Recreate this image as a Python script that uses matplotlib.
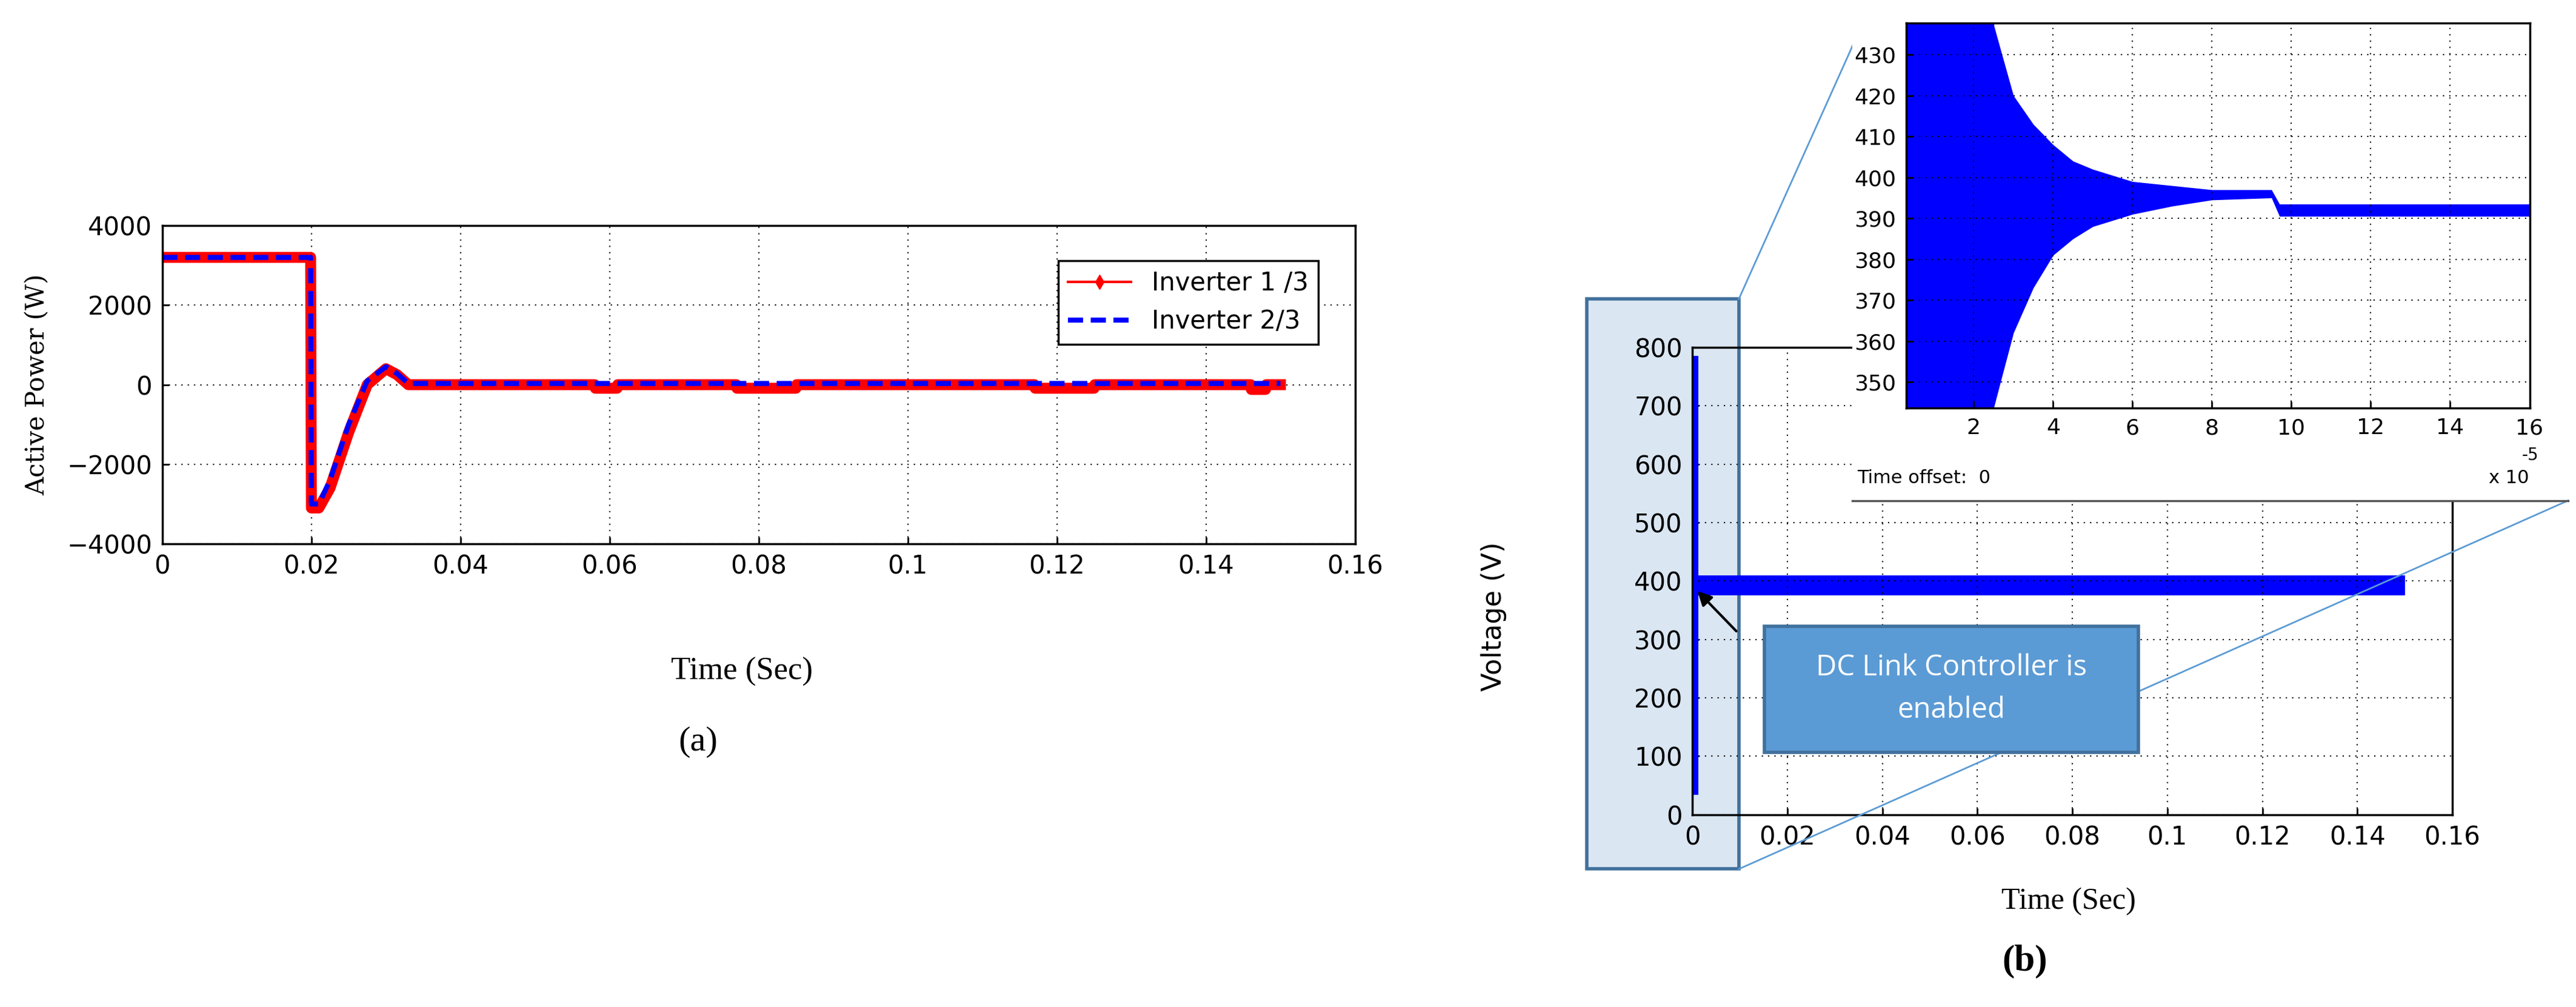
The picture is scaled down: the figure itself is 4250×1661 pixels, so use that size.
import matplotlib
matplotlib.use("Agg")
import matplotlib.pyplot as plt
from matplotlib.patches import Rectangle
import numpy as np

plt.rcParams["font.family"] = ["Liberation Sans Narrow", "DejaVu Sans"]

# ---- panel (a): active power of the two inverters ----
t_inv1 = [0, 0.0199, 0.0200, 0.0210, 0.0225, 0.0250, 0.0275, 0.0300, 0.0315, 0.0330,
          0.058, 0.0581, 0.061, 0.0611, 0.077, 0.0771, 0.085, 0.0851,
          0.117, 0.1171, 0.125, 0.1251, 0.146, 0.1461, 0.148, 0.1481, 0.150]
p_inv1 = [3200, 3200, -3100, -3100, -2600, -1200, 0, 400, 250, 0,
          0, -90, -90, 0, 0, -90, -90, 0,
          0, -90, -90, 0, 0, -120, -120, 0, 0]
t_inv2 = [0, 0.0199, 0.0200, 0.0210, 0.0225, 0.0250, 0.0275, 0.0300, 0.0315, 0.0330, 0.150]
p_inv2 = [3200, 3200, -3000, -3000, -2400, -1000, 100, 450, 280, 30, 30]

xticks_a = [0, 0.02, 0.04, 0.06, 0.08, 0.1, 0.12, 0.14, 0.16]
xtick_labels = ["0", "0.02", "0.04", "0.06", "0.08", "0.1", "0.12", "0.14", "0.16"]
yticks_a = [-4000, -2000, 0, 2000, 4000]

# ---- panel (b): DC link voltage ----
t_spike = [0.0005, 0.0005]
v_spike = [40, 780]
t_band = [0.0, 0.150]
v_band_lo = [375, 375]
v_band_hi = [410, 410]
yticks_b = [0, 100, 200, 300, 400, 500, 600, 700, 800]

# zoomed inset (time in units of 1e-5 s)
t_zoom = [0.3, 2.5, 2.51, 3.0, 3.5, 4.0, 4.5, 5.0, 6.0, 7.0, 8.0, 9.5, 9.7, 16.0]
v_zoom_hi = [440, 440, 437, 420, 413, 408, 404, 402, 399, 398, 397, 397, 393.5, 393.5]
v_zoom_lo = [340, 340, 344, 362, 373, 381, 385, 388, 391, 393, 394.5, 395, 390.5, 390.5]
xticks_z = [2, 4, 6, 8, 10, 12, 14, 16]
yticks_z = [350, 360, 370, 380, 390, 400, 410, 420, 430]

fig = plt.figure(figsize=(42.5, 16.61), dpi=100)

# shaded selection box (behind everything)
fig.patches.append(Rectangle((0.616, 0.137), 0.059, 0.566, transform=fig.transFigure,
                             facecolor="#dae6f2", edgecolor="#41719c", lw=4, zorder=-1))

# ---------------- (a) ----------------
ax1 = fig.add_axes([0.063, 0.460, 0.463, 0.316])
ax1.plot(t_inv1, p_inv1, color="red", lw=13, marker="d", ms=6, label="Inverter 1 /3")
ax1.plot(t_inv2, p_inv2, color="blue", lw=6, ls=(0, (3, 1.5)), label="Inverter 2/3")
ax1.set_xlim(0, 0.16)
ax1.set_ylim(-4000, 4000)
ax1.set_xticks(xticks_a)
ax1.set_xticklabels(xtick_labels)
ax1.set_yticks(yticks_a)
ax1.tick_params(labelsize=30, direction="in", length=8, width=2, pad=12)
ax1.grid(True, color="black", ls=(0, (1, 4)), lw=1.5)
for s in ax1.spines.values():
    s.set_linewidth(2.5)
ax1.set_ylabel("Active Power (W)", family="DejaVu Serif", fontsize=30, labelpad=20)
leg = ax1.legend(loc="upper right", bbox_to_anchor=(0.98, 0.93), fontsize=30,
                 fancybox=False, edgecolor="black", framealpha=1, handlelength=2.5)
leg.get_frame().set_linewidth(2.5)
leg.get_lines()[0].set_linewidth(3)
leg.get_lines()[0].set_markersize(12)
fig.text(0.288, 0.333, "Time (Sec)", fontsize=38, family="Liberation Serif",
         ha="center", va="center")
fig.text(0.271, 0.263, "(a)", fontsize=42, family="Liberation Serif",
         ha="center", va="center")

# ---------------- (b) ----------------
ax2 = fig.add_axes([0.657, 0.191, 0.295, 0.464])
ax2.patch.set_alpha(0)
ax2.plot(t_spike, v_spike, color="blue", lw=8)
ax2.fill_between(t_band, v_band_lo, v_band_hi, color="blue", lw=0)
ax2.set_xlim(0, 0.16)
ax2.set_ylim(0, 800)
ax2.set_xticks(xticks_a)
ax2.set_xticklabels(xtick_labels)
ax2.set_yticks(yticks_b)
ax2.tick_params(labelsize=30, direction="in", length=8, width=2, pad=12)
ax2.grid(True, color="black", ls=(0, (1, 4)), lw=1.5)
for s in ax2.spines.values():
    s.set_linewidth(2.5)
fig.text(0.580, 0.388, "Voltage (V)", fontsize=32, family="DejaVu Sans",
         rotation=90, ha="center", va="center")
fig.text(0.803, 0.105, "Time (Sec)", fontsize=36, family="Liberation Serif",
         ha="center", va="center")
fig.text(0.786, 0.045, "(b)", fontsize=44, family="Liberation Serif",
         fontweight="bold", ha="center", va="center")

# zoom guide lines
fig.add_artist(plt.Line2D([0.675, 0.721], [0.703, 0.965], transform=fig.transFigure,
                          color="#5b9bd5", lw=2))
fig.add_artist(plt.Line2D([0.675, 0.997], [0.137, 0.503], transform=fig.transFigure,
                          color="#5b9bd5", lw=2))

# white panel of the inset (covers part of main axes)
fig.add_artist(Rectangle((0.719, 0.503), 0.263, 0.48, transform=fig.transFigure,
                         facecolor="white", edgecolor="none", zorder=3))
fig.add_artist(plt.Line2D([0.719, 0.997], [0.503, 0.503], transform=fig.transFigure,
                          color="#555555", lw=2.5, zorder=3.1))
fig.text(0.721, 0.525, "Time offset:  0", fontsize=22, ha="left", va="center", zorder=4)
fig.text(0.966, 0.525, "x 10", fontsize=22, ha="left", va="center", zorder=4)
fig.text(0.979, 0.548, "-5", fontsize=20, ha="left", va="center", zorder=4)

# inset axes
ax3 = fig.add_axes([0.740, 0.595, 0.242, 0.382], zorder=5)
ax3.fill_between(t_zoom, v_zoom_lo, v_zoom_hi, color="blue", lw=0)
ax3.set_xlim(0.3, 16)
ax3.set_ylim(343.7, 437.7)
ax3.set_xticks(xticks_z)
ax3.set_yticks(yticks_z)
ax3.tick_params(labelsize=26, direction="in", length=8, width=2, pad=12)
ax3.grid(True, color="black", ls=(0, (1, 4)), lw=1.5)
for s in ax3.spines.values():
    s.set_linewidth(2.5)

# callout
fig.add_artist(Rectangle((0.685, 0.253), 0.145, 0.125, transform=fig.transFigure,
                         facecolor="#5b9bd5", edgecolor="#41719c", lw=4, zorder=6))
fig.text(0.7575, 0.316, "DC Link Controller is\nenabled", fontsize=34,
         family="Open Sans", color="white", ha="center", va="center",
         linespacing=1.6, zorder=7)
ax2.annotate("", xy=(0.0008, 385), xytext=(0.0095, 312),
             arrowprops=dict(arrowstyle="-|>", color="black", lw=3, mutation_scale=35),
             zorder=8)

fig.savefig("out.png", dpi=100)
